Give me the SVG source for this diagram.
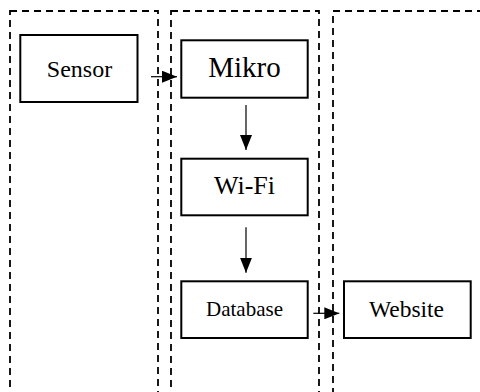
<svg xmlns="http://www.w3.org/2000/svg" width="480" height="392" viewBox="0 0 480 392">
<style>
.lane{fill:none;stroke:#000;stroke-width:1.8;stroke-dasharray:7 5}
.box{fill:#fff;stroke:#000;stroke-width:2}
.lbl{font-family:"Liberation Serif","Times New Roman",serif;fill:#000;text-anchor:middle}
.conn{stroke:#000;stroke-width:1.2;fill:none}
</style>
<defs>
<marker id="ah" viewBox="0 0 15 12" refX="15" refY="6" markerWidth="15" markerHeight="12" markerUnits="userSpaceOnUse" orient="auto">
<path d="M0,0 L15,6 L0,12 Z" fill="#000"/>
</marker>
</defs>
<g id="lanes">
<rect class="lane" x="10" y="11" width="148" height="400"/>
<rect class="lane" x="171" y="11" width="148" height="400"/>
<rect class="lane" x="333" y="11" width="170" height="400"/>
</g>
<g id="sensor">
<rect class="box" x="20.3" y="35" width="117.2" height="67"/>
<text class="lbl" x="79.5" y="76.5" font-size="24">Sensor</text>
</g>
<g id="mikro">
<rect class="box" x="181.3" y="40.3" width="126.4" height="57.4"/>
<text class="lbl" x="244.5" y="77.3" font-size="29">Mikro</text>
</g>
<g id="wifi">
<rect class="box" x="181.3" y="158.7" width="126.4" height="56.6"/>
<text class="lbl" x="244.5" y="194.3" font-size="26">Wi-Fi</text>
</g>
<g id="database">
<rect class="box" x="181.3" y="281.3" width="126.4" height="56.7"/>
<text class="lbl" x="244.5" y="316" font-size="21">Database</text>
</g>
<g id="website">
<rect class="box" x="344" y="281.3" width="126.7" height="56.7"/>
<text class="lbl" x="406.5" y="317.3" font-size="23.5">Website</text>
</g>
<g id="connectors">
<line class="conn" x1="151" y1="76.7" x2="177" y2="76.7" marker-end="url(#ah)"/>
<line class="conn" x1="246" y1="105" x2="246" y2="150" marker-end="url(#ah)"/>
<line class="conn" x1="246" y1="227.3" x2="246" y2="272.7" marker-end="url(#ah)"/>
<line class="conn" x1="313.3" y1="313.3" x2="339.3" y2="313.3" marker-end="url(#ah)"/>
</g>
</svg>
